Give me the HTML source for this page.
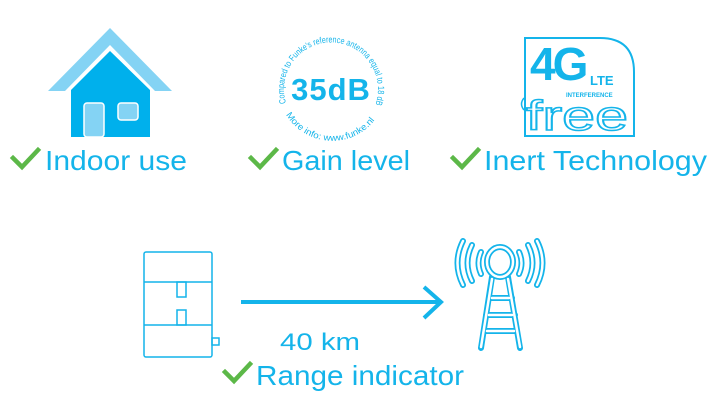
<!DOCTYPE html>
<html><head><meta charset="utf-8"><style>
html,body{margin:0;padding:0;background:#fff;width:720px;height:406px;overflow:hidden}
svg{display:block}
text{font-family:"Liberation Sans",sans-serif}
</style></head><body>
<svg width="720" height="406" viewBox="0 0 720 406" xmlns="http://www.w3.org/2000/svg">
<defs>
<path id="topArc" d="M286,103 A47,47 0 1 1 376,103"/>
<path id="botArc" d="M285,113 A54,54 0 0 0 381,110"/>
</defs>
<!-- House -->
<polygon points="110,28 48,91 172,91" fill="#84d3f4"/>
<polygon points="110,45 65,91 155,91" fill="#fff"/>
<polygon points="110,51 71,90 71,137 150,137 150,90" fill="#00b0ec"/>
<rect x="84" y="103" width="20" height="34" rx="3" fill="#84d3f4" stroke="#fff" stroke-width="1.5"/>
<rect x="118" y="103" width="20" height="17" rx="3" fill="#84d3f4" stroke="#fff" stroke-width="1.5"/>
<!-- checks -->
<g fill="none" stroke="#5cb848" stroke-width="4.5" stroke-linecap="square">
<path d="M13,158 L22,167 L38,150"/>
<path d="M251,158 L260,167 L276,150"/>
<path d="M453,158 L462,167 L478,150"/>
<path d="M225,372 L234,381 L250,364"/>
</g>
<g fill="#14b4ea" font-size="28">
<text x="45" y="170" textLength="142" lengthAdjust="spacingAndGlyphs">Indoor use</text>
<text x="282" y="170" textLength="128" lengthAdjust="spacingAndGlyphs">Gain level</text>
<text x="484" y="170" textLength="223" lengthAdjust="spacingAndGlyphs">Inert Technology</text>
<text x="256" y="385" textLength="208" lengthAdjust="spacingAndGlyphs">Range indicator</text>
<text x="280" y="350" font-size="24" textLength="80" lengthAdjust="spacingAndGlyphs">40 km</text>
</g>
<!-- 35dB -->
<text x="331" y="100" text-anchor="middle" font-size="31" font-weight="bold" fill="#14b4ea" letter-spacing="1">35dB</text>
<text font-size="9" fill="#14b4ea"><textPath href="#topArc" textLength="178" lengthAdjust="spacingAndGlyphs">Compared to Funke's reference antenna equal to 18 dBi</textPath></text>
<text font-size="9" fill="#14b4ea"><textPath href="#botArc" startOffset="2" textLength="104" lengthAdjust="spacingAndGlyphs">More info: www.funke.nl</textPath></text>
<!-- 4G box -->
<path d="M525,38 L600,38 Q634,38 634,72 L634,136 L525,136 Z" fill="none" stroke="#14b4ea" stroke-width="2"/>
<text x="530" y="80" font-size="46" font-weight="bold" fill="#14b4ea" letter-spacing="-3">4G</text>
<text x="590" y="85" font-size="13" font-weight="bold" fill="#14b4ea">LTE</text>
<text x="566" y="97" font-size="6" font-weight="bold" fill="#14b4ea">INTERFERENCE</text>
<text x="526" y="130" font-size="42" fill="none" stroke="#14b4ea" stroke-width="1.5" textLength="102" lengthAdjust="spacingAndGlyphs">free</text>
<path d="M524,98 Q519,104 524,110" fill="none" stroke="#14b4ea" stroke-width="1.5"/>
<!-- device -->
<g fill="none" stroke="#14b4ea" stroke-width="1.5">
<rect x="144" y="252" width="68" height="105" rx="2"/>
<line x1="144" y1="282" x2="212" y2="282"/>
<line x1="144" y1="325" x2="212" y2="325"/>
<rect x="177" y="282" width="9" height="15"/>
<rect x="177" y="310" width="9" height="15"/>
<rect x="212" y="338" width="7" height="7"/>
</g>
<!-- arrow -->
<line x1="241" y1="302" x2="440" y2="302" stroke="#14b4ea" stroke-width="4"/>
<path d="M424,287 L441,302 L424,318" fill="none" stroke="#14b4ea" stroke-width="4"/>
<!-- tower -->
<g fill="none" stroke="#14b4ea" stroke-width="6" stroke-linecap="round">
<ellipse cx="500" cy="262" rx="13" ry="15"/>
<path d="M492,277 L481,348 M508,277 L520,348 M489,298 L512,298 M486,315 L515,315 M484,331 L517,331"/>
<path d="M481,252 Q476,263 481,274 M519,252 Q524,263 519,274"/>
<path d="M472,245 Q463,263 472,281 M528,245 Q537,263 528,281"/>
<path d="M463,241 Q452,263 463,285 M537,241 Q548,263 537,285"/>
</g>
<g fill="none" stroke="#fff" stroke-width="2.5" stroke-linecap="round">
<ellipse cx="500" cy="262" rx="13" ry="15"/>
<path d="M492,279 L481,347 M508,279 L520,347 M492,298 L509,298 M489,315 L512,315 M487,331 L514,331"/>
<path d="M481,252 Q476,263 481,274 M519,252 Q524,263 519,274"/>
<path d="M472,245 Q463,263 472,281 M528,245 Q537,263 528,281"/>
<path d="M463,241 Q452,263 463,285 M537,241 Q548,263 537,285"/>
</g>
</svg>
</body></html>
